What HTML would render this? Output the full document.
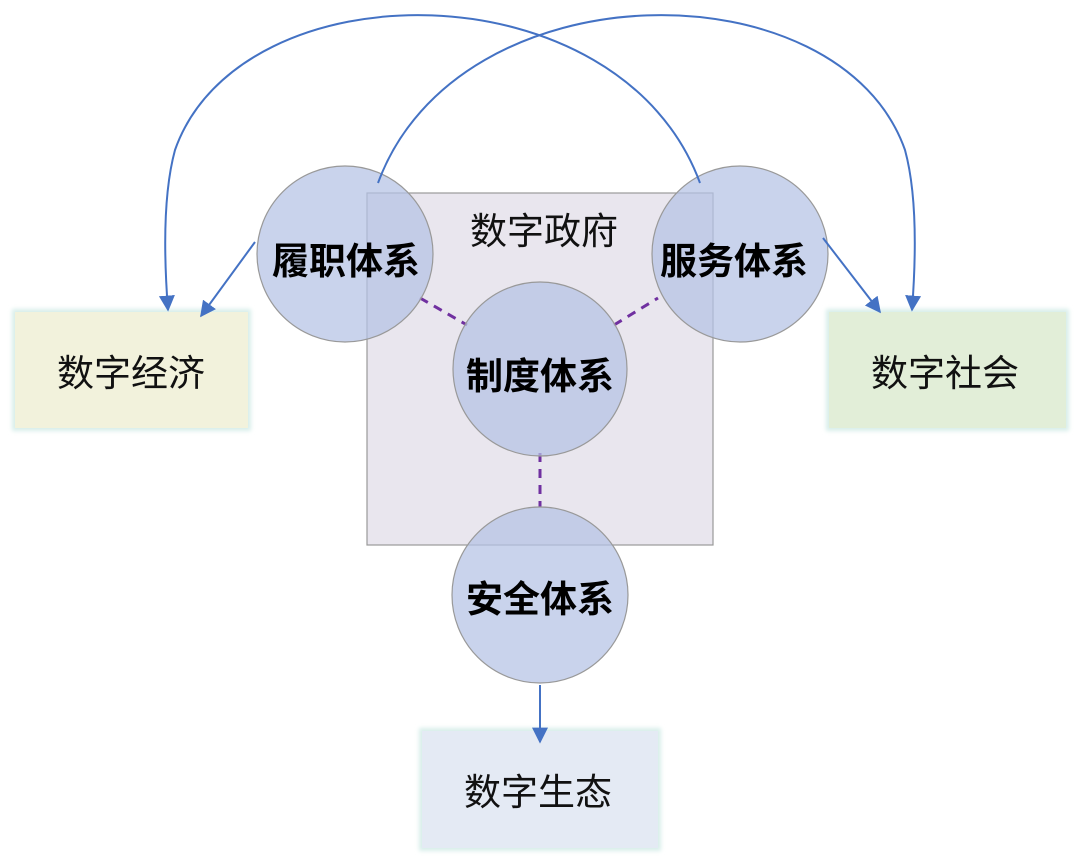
<!DOCTYPE html>
<html><head><meta charset="utf-8"><style>
html,body{margin:0;padding:0;background:#fff;}
svg{display:block}
text{font-family:"Liberation Sans","Noto Sans CJK SC",sans-serif;}
</style></head><body>
<svg width="1080" height="863" viewBox="0 0 1080 863" xmlns="http://www.w3.org/2000/svg">
<defs>
<marker id="a" viewBox="0 0 10 10" refX="9" refY="5" markerWidth="16" markerHeight="16" orient="auto" markerUnits="userSpaceOnUse">
<path d="M0,0 L10,5 L0,10 Z" fill="#4472c4"/>
</marker>
<filter id="g" x="-10%" y="-10%" width="120%" height="120%"><feGaussianBlur stdDeviation="2"/></filter>
</defs>
<rect x="12" y="309" width="239" height="122" fill="#d8eeea" filter="url(#g)"/>
<rect x="15" y="312" width="233" height="116" fill="#f2f2dc"/>
<text x="131" y="386" font-size="37" text-anchor="middle" fill="#111">数字经济</text>
<rect x="826" y="309" width="243" height="122" fill="#d8eeea" filter="url(#g)"/>
<rect x="829" y="312" width="237" height="116" fill="#e2eed8"/>
<text x="945" y="386" font-size="37" text-anchor="middle" fill="#111">数字社会</text>
<rect x="419" y="728" width="242" height="123" fill="#d8eeea" filter="url(#g)"/>
<rect x="422" y="731" width="236" height="117" fill="#e4eaf4"/>
<text x="538" y="805" font-size="37" text-anchor="middle" fill="#111">数字生态</text>
<rect x="367" y="193" width="346" height="352" fill="#e9e6ee" stroke="#999" stroke-width="1.2"/>
<text x="544" y="244" font-size="37" text-anchor="middle" fill="#111">数字政府</text>
<g stroke="#7030a0" stroke-width="3" stroke-dasharray="9,7">
<line x1="420" y1="298" x2="467" y2="325"/>
<line x1="614" y1="325" x2="658" y2="298"/>
<line x1="540" y1="453" x2="540" y2="507"/>
</g>
<g fill="#b4c2e4" fill-opacity="0.72" stroke="#999" stroke-width="1.2">
<circle cx="345" cy="254" r="88"/>
<circle cx="740" cy="254" r="88"/>
<circle cx="540" cy="369" r="87"/>
<circle cx="540" cy="595" r="88"/>
</g>
<g font-size="37" font-weight="bold" text-anchor="middle" fill="#000">
<text x="346" y="274">履职体系</text>
<text x="734" y="274">服务体系</text>
<text x="540" y="389">制度体系</text>
<text x="540" y="612">安全体系</text>
</g>
<g stroke="#4472c4" stroke-width="2" fill="none">
<path d="M700,183 C620,-35 240,-35 175,150 Q160,205 168,310" marker-end="url(#a)"/>
<path d="M378,183 C458,-35 840,-35 905,150 Q920,205 912,310" marker-end="url(#a)"/>
<line x1="255" y1="242" x2="201" y2="316" marker-end="url(#a)"/>
<line x1="823" y1="238" x2="880" y2="312" marker-end="url(#a)"/>
<line x1="540" y1="685" x2="540" y2="742" marker-end="url(#a)"/>
</g>
</svg>
</body></html>
